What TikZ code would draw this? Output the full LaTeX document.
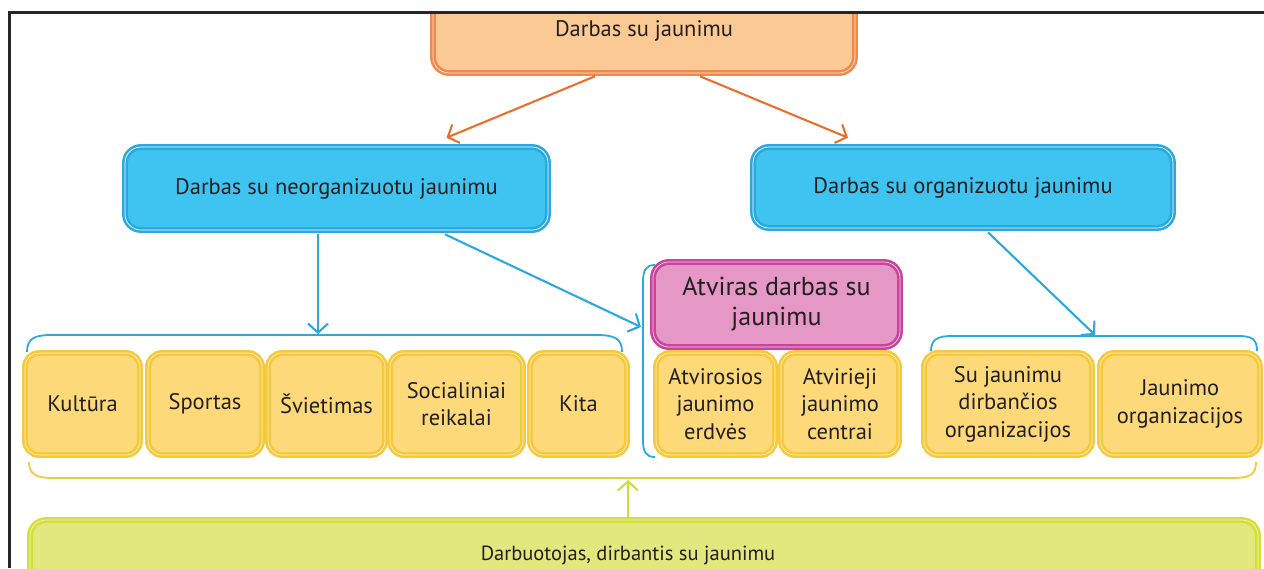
\documentclass[tikz,border=0pt]{standalone}
\usepackage{fontspec}
\setmainfont{PT Sans}
\usetikzlibrary{arrows.meta,calc}
\definecolor{txt}{HTML}{231F20}
\definecolor{orfill}{HTML}{FBC994}
\definecolor{orline}{HTML}{EE8A4E}
\definecolor{orarrow}{HTML}{E96F2D}
\definecolor{blfill}{HTML}{3FC3F0}
\definecolor{blline}{HTML}{2AA8DF}
\definecolor{pkfill}{HTML}{E597C5}
\definecolor{pkline}{HTML}{C9449D}
\definecolor{yefill}{HTML}{FDD97A}
\definecolor{yeline}{HTML}{F6C83B}
\definecolor{grfill}{HTML}{E2E77E}
\definecolor{grline}{HTML}{D4DF3C}
\definecolor{grarrow}{HTML}{CCDD3A}
\tikzset{
  box/.style={rounded corners=16pt, align=center, text=txt, inner sep=2pt,
    line width=2.6pt, double distance=0.7pt},
  orbox/.style={box, fill=orfill, draw=orline, double=orfill!40!white},
  blbox/.style={box, fill=blfill, draw=blline, double=white, font=\fontsize{22.5}{26}\selectfont},
  pkbox/.style={box, fill=pkfill, draw=pkline, double=pkfill!40!white, font=\fontsize{26}{30}\selectfont},
  yebox/.style={box, rounded corners=14pt, fill=yefill, draw=yeline, double=yefill!40!white,
    font=\fontsize{22.5}{27.5}\selectfont, minimum height=102pt},
  grbox/.style={box, fill=grfill, draw=grline, double=grfill!40!white},
  arr/.style={line width=2.1pt, -{Straight Barb[length=9pt,width=20pt,line width=2.1pt]}},
  brace/.style={line width=1.8pt},
}
\begin{document}
\begin{tikzpicture}[x=1pt,y=-1pt]
\useasboundingbox (0,0) rectangle (1264,568);
\begin{scope}
\clip (9,12) rectangle (1264,568);
\node[orbox, minimum width=422pt, minimum height=100pt] (top) at (644,23) {};
\node[text=txt, font=\fontsize{22.5}{26}\selectfont] (toplabel) at (644,31) {Darbas su jaunimu};
\node[grbox, minimum width=1228pt, minimum height=90pt] (gr) at (644,565) {};
\node[text=txt, font=\fontsize{20.5}{24}\selectfont] (grlabel) at (628,555) {Darbuotojas, dirbantis su jaunimu};
\end{scope}

\node[blbox, minimum width=423pt, minimum height=83pt] (neorg) at (336.5,188.5) {Darbas su neorganizuotu jaunimu};
\node[blbox, minimum width=420pt, minimum height=81pt] (org) at (963,187.5) {Darbas su organizuotu jaunimu};

\node[pkbox, minimum width=247pt, minimum height=85pt] (atv) at (776.5,304.5) {Atviras darbas su\\jaunimu};

\node[yebox, minimum width=115pt] (kult) at (82.5,404) {Kultūra};
\node[yebox, minimum width=114pt] (sport) at (205,404) {Sportas};
\node[yebox, minimum width=117pt] (svit) at (326.5,404) {Švietimas};
\node[yebox, minimum width=133pt] (soc) at (456.5,404) {Socialiniai\\reikalai};
\node[yebox, minimum width=97pt] (kita) at (578.5,404) {Kita};
\node[yebox, minimum width=119pt] (erd) at (715.5,404) {Atvirosios\\jaunimo\\erdvės};
\node[yebox, minimum width=118pt] (cent) at (840,404) {Atvirieji\\jaunimo\\centrai};
\node[yebox, minimum width=168pt] (dirb) at (1008,404) {Su jaunimu\\dirbančios\\organizacijos};
\node[yebox, minimum width=160pt] (jorg) at (1180,404) {Jaunimo\\organizacijos};

% braces
\draw[brace, draw=blline] (27,352) .. controls (27,338) and (35,335) .. (52,335) -- (596,335) .. controls (614,335) and (622,338) .. (622,352);
\draw[brace, draw=blline] (931,351) .. controls (931,339) and (938,336) .. (952,336) -- (1238,336) .. controls (1252,336) and (1257,339) .. (1257,351);
\draw[brace, draw=blline] (655,265) .. controls (646,265) and (643,270) .. (643,282) -- (643,440) .. controls (643,452) and (646,457) .. (655,457);
\draw[brace, draw=yeline] (29,462) .. controls (29,474) and (36,478) .. (52,478) -- (1234,478) .. controls (1250,478) and (1256,474) .. (1256,462);

% arrow end points
\coordinate (lb) at (318,334);
\coordinate (mb) at (641,327);
\coordinate (rb) at (1095,335);
\coordinate (yb) at (628,480);

% arrows
\draw[arr, draw=orarrow] ($(top.south)+(-49,2)$) -- ($(neorg.north)+(110,-8)$);
\draw[arr, draw=orarrow] ($(top.south)+(56,2)$) -- ($(org.north)+(-115,-8)$);
\draw[arr, draw=blline] ($(neorg.south)+(-18.5,3)$) -- (lb);
\draw[arr, draw=blline] ($(neorg.south)+(108.5,3)$) -- (mb);
\draw[arr, draw=blline] ($(org.south)+(25,3)$) -- (rb);
\draw[arr, draw=grarrow] ($(gr.north)+(-16,-2)$) -- (yb);

% frame
\draw[line width=3pt, draw=black!85] (9,568) -- (9,12) -- (1264,12);
\end{tikzpicture}
\end{document}
